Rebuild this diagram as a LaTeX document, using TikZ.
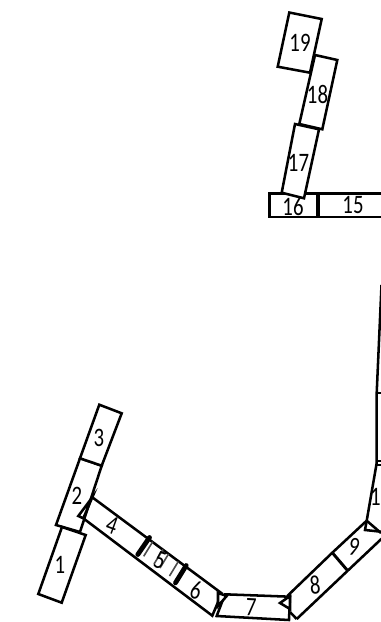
\documentclass[tikz,border=0pt]{standalone}
\usepackage{fontspec}
\setmainfont[FakeStretch=0.78]{Carlito}
\usepackage{tikz}

\tikzset{
  seg/.style={line width=1.9pt,line join=miter,fill=white},
  edge/.style={line width=1.9pt},
  divider/.style={line width=3.6pt,line cap=round},
  hatchline/.style={black!70,line width=1.2pt},
  numlabel/.style={inner sep=0pt,font=\fontsize{20}{20}\selectfont}
}

\begin{document}
\begin{tikzpicture}[x=0.75pt,y=-0.75pt]
\useasboundingbox (0,0) rectangle (381,622);
\clip (0,0) rectangle (381,622);

% upper chain
\draw[seg] (269.5,193.5) -- (318,193.5) -- (318,217) -- (269.5,217) -- cycle;
\draw[edge] (318,193.5) -- (385,193.5);
\draw[edge] (318,217) -- (385,217);
\draw[line width=2.6pt] (318,193) -- (318,217.5);

\draw[seg] (289.3,12.5) -- (321.7,19) -- (310,72.7) -- (277.7,66.7) -- cycle;
\draw[seg] (315,55) -- (337.3,60) -- (322.3,129.3) -- (299.3,124) -- cycle;
\draw[seg] (295,124) -- (319,129.3) -- (304,198.3) -- (281.7,192.7) -- cycle;

% lower left
\draw[seg] (80,458.3) -- (101.7,465.7) -- (80,532) -- (56,525) -- cycle;
\draw[seg] (62,527) -- (85.7,535) -- (61.7,602.7) -- (38.3,594) -- cycle;
\draw[seg] (99.3,404.7) -- (121.7,413.3) -- (101.7,465.7) -- (80,458.3) -- cycle;

% bottom chain
\draw[seg] (92.3,497.3) -- (78.3,516) -- (83.3,518.3) -- cycle;
\draw[edge] (92.3,497.3) -- (221.7,593.3) -- (212.3,615.7) -- (83.3,518.3);
\draw[hatchline] (152.7,541.7) -- (143.7,556.3);
\draw[hatchline] (163,549.5) -- (154,564);
\draw[hatchline] (168.5,554) -- (160,568);
\draw[hatchline] (178.3,561.5) -- (169.5,576);
\draw[divider] (149.5,537.5) -- (137.8,554.5);
\draw[divider] (186.2,565.5) -- (175.5,582.8);

\draw[seg] (225,594.3) -- (290,596.7) -- (289,620) -- (216.7,616) -- cycle;
\draw[seg] (218,593) -- (218,606) -- (226.7,596) -- cycle;
\draw[seg] (290,596) -- (280,603) -- (290,609) -- cycle;

\draw[edge] (287.3,596) -- (332.3,552.7);
\draw[edge] (296.7,619) -- (290,612);
\draw[edge] (296.7,619) -- (347.7,570.7);
\draw[edge] (366.7,520.7) -- (332.3,552.7);
\draw[edge] (347.7,570.7) -- (385,535.5);
\draw[line width=2.2pt] (332.3,552.7) -- (347.7,570.7);
\draw[edge] (366.7,520.7) -- (365,530) -- (381,531.7);
\draw[edge] (366.7,520.7) -- (381,533);

% right side
\draw[edge] (366.7,520.7) -- (376.7,463);
\draw[edge] (376.7,463) -- (376.7,393) -- (381.5,285);
\draw[edge] (376.7,461) -- (385,461);
\draw[edge] (376.7,465) -- (385,465);
\draw[edge] (376.7,393) -- (385,393);

% numbers
\node[numlabel] (n19) at (300,43) {19};
\node[numlabel] (n18) at (317.5,94) {18};
\node[numlabel] (n17) at (298.5,163) {17};
\node[numlabel] (n16) at (293,207) {16};
\node[numlabel] (n15) at (353,205) {15};
\node[numlabel] (n3) at (99,438) {3};
\node[numlabel] (n2) at (77,496) {2};
\node[numlabel] (n1) at (60,565) {1};
\node[numlabel,rotate=-20] (n4) at (112,525) {4};
\node[numlabel,rotate=-20] (n5) at (160,560) {5};
\node[numlabel,rotate=-15] (n6) at (196,590) {6};
\node[numlabel,rotate=-3] (n7) at (251,607) {7};
\node[numlabel,rotate=5] (n8) at (315,585) {8};
\node[numlabel,rotate=-10] (n9) at (354,547) {9};
\node[numlabel,anchor=east] (n10) at (381,497) {1};
\end{tikzpicture}
\end{document}
